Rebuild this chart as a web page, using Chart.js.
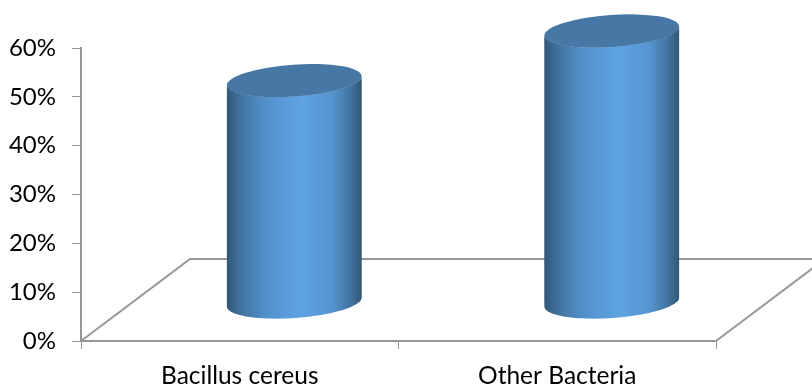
<!DOCTYPE html>
<html>
<head>
<meta charset="utf-8">
<style>
  html, body { margin: 0; padding: 0; background: #fff; }
  canvas { display: block; }
</style>
<script src="https://cdn.jsdelivr.net/npm/chart.js@4/dist/chart.umd.min.js"></script>
</head>
<body>
<canvas id="chart" width="812" height="385"></canvas>
<script>
const categories = ['Bacillus cereus', 'Other Bacteria'];
const seriesValues = [49, 60];
const axisColor = '#969696';
const capColor = '#4777a4';

// the floor runs back from the x axis, cylinders stand halfway along it
const depthX = 109;
const depthY = 82;
const tilt = -4 * Math.PI / 180;
const capRy = 16;

function sideGradient(ctx, left, right) {
    const g = ctx.createLinearGradient(left, 0, right, 0);
    g.addColorStop(0, '#315878');
    g.addColorStop(0.1, '#41729f');
    g.addColorStop(0.28, '#5290ca');
    g.addColorStop(0.55, '#5fa3e3');
    g.addColorStop(0.78, '#5595d0');
    g.addColorStop(0.92, '#43739f');
    g.addColorStop(1, '#305878');
    return g;
}

function sidePath(ctx, bar) {
    const rx = bar.width / 2 + 0.4;
    ctx.ellipse(bar.x, bar.y, rx, capRy, tilt, 0, Math.PI, false);
    ctx.ellipse(bar.x, bar.base, rx, capRy, tilt, Math.PI, 0, true);
    ctx.closePath();
}

const floorAndCaps = {
    id: 'floorAndCaps',
    beforeDatasetsDraw(chart) {
        const { ctx, chartArea: a } = chart;
        ctx.save();
        ctx.strokeStyle = axisColor;
        ctx.lineWidth = 2;
        ctx.beginPath();
        ctx.moveTo(a.left, a.bottom);
        ctx.lineTo(a.left + depthX, a.bottom - depthY);
        ctx.lineTo(a.right + depthX, a.bottom - depthY);
        ctx.lineTo(a.right, a.bottom);
        ctx.stroke();
        ctx.restore();
    },
    beforeDatasetDraw(chart, args) {
        const ctx = chart.ctx;
        const bars = chart.getDatasetMeta(args.index).data;
        ctx.save();
        ctx.translate(depthX / 2, 0);
        bars.forEach(bar => {
            ctx.beginPath();
            sidePath(ctx, bar);
            ctx.fillStyle = sideGradient(ctx, bar.x - bar.width / 2, bar.x + bar.width / 2);
            ctx.fill();
        });
        // keep the square bar corners inside the round outline
        ctx.beginPath();
        bars.forEach(bar => sidePath(ctx, bar));
        ctx.clip();
    },
    afterDatasetDraw(chart, args) {
        const ctx = chart.ctx;
        ctx.restore();
        ctx.save();
        ctx.translate(depthX / 2, 0);
        chart.getDatasetMeta(args.index).data.forEach(bar => {
            ctx.beginPath();
            ctx.ellipse(bar.x, bar.y, bar.width / 2 + 0.4, capRy, tilt, 0, Math.PI * 2);
            ctx.fillStyle = capColor;
            ctx.fill();
        });
        ctx.restore();
    }
};

new Chart(document.getElementById('chart'), {
    type: 'bar',
    plugins: [floorAndCaps],
    data: {
        labels: categories,
        datasets: [{
            data: seriesValues,
            yAxisID: 'yBars',
            clip: false,
            barPercentage: 0.423,
            categoryPercentage: 1,
            backgroundColor(c) {
                const chart = c.chart;
                if (!chart.chartArea) return '#5088c0';
                const x = chart.scales.x.getPixelForValue(c.dataIndex);
                const half = chart.chartArea.width / categories.length * 0.423 / 2;
                return sideGradient(chart.ctx, x - half, x + half);
            }
        }]
    },
    options: {
        responsive: false,
        animation: false,
        layout: { padding: { top: 48, right: 96, bottom: 0, left: 0 } },
        plugins: { legend: { display: false }, tooltip: { enabled: false } },
        scales: {
            x: {
                afterFit(scale) { scale.height = 44; },
                border: { color: axisColor, width: 2 },
                grid: { color: axisColor, drawOnChartArea: false, tickLength: 8, lineWidth: 1 },
                ticks: { color: '#000', padding: 12, maxRotation: 0, font: { family: 'Lato', size: 24.5 } }
            },
            y: {
                min: 0,
                max: 60,
                afterFit(scale) { scale.width = 81; },
                border: { color: axisColor, width: 2 },
                grid: { color: axisColor, drawOnChartArea: false, tickLength: 9, lineWidth: 1 },
                ticks: {
                    stepSize: 10,
                    color: '#000',
                    padding: 16,
                    font: { family: 'Lato', size: 24 },
                    callback: v => v + '%'
                }
            },
            // cylinders are foreshortened, so they use their own hidden scale
            yBars: { display: false, min: -8.63, max: 56.23 }
        }
    }
});
</script>
</body>
</html>
